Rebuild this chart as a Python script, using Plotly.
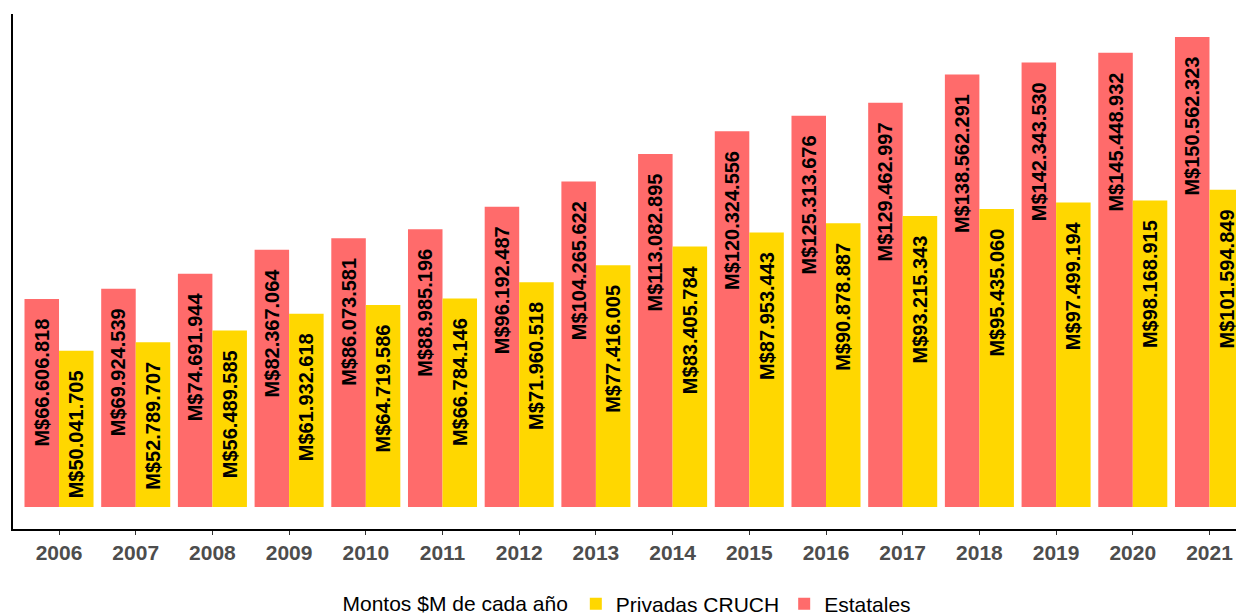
import plotly.graph_objects as go

years = [str(y) for y in range(2006, 2022)]

estatales = [
    66606818, 69924539, 74691944, 82367064, 86073581, 88985196, 96192487, 104265622,
    113082895, 120324556, 125313676, 129462997, 138562291, 142343530, 145448932, 150562323,
]
privadas = [
    50041705, 52789707, 56489585, 61932618, 64719586, 66784146, 71960518, 77416005,
    83405784, 87953443, 90878887, 93215343, 95435060, 97499194, 98168915, 101594849,
]

COLORS = {"Estatales": "#FF6B6B", "Privadas CRUCH": "#FFD700"}
FONT = "Liberation Sans, Arial"


def label(v):
    # trailing nbsp pushes the rotated label a bit further down from the bar top
    return "M$" + f"{v:,}".replace(",", ".") + "\u00a0\u00a0\u00a0"


fig = go.Figure()
for name, vals in [("Estatales", estatales), ("Privadas CRUCH", privadas)]:
    fig.add_trace(go.Bar(
        x=years,
        y=vals,
        name=name,
        marker=dict(color=COLORS[name], line=dict(width=0)),
        text=[label(v) for v in vals],
        textposition="inside",
        insidetextanchor="end",
        textangle=-90,
        constraintext="none",
        textfont=dict(family=FONT, size=20, color="black", weight="bold"),
        hoverinfo="x+y+name",
    ))

# page body has an 8px margin, so the figure is shrunk/offset to fit the window
fig.update_layout(
    width=1236,
    height=608,
    barmode="group",
    bargap=0.1,
    bargroupgap=0,
    paper_bgcolor="white",
    plot_bgcolor="white",
    margin=dict(l=5, r=0, t=6, b=87, autoexpand=False),
    font=dict(family=FONT, size=15, color="black"),
    legend=dict(
        orientation="h",
        x=0.5, xanchor="center",
        y=-0.146, yanchor="middle",
        traceorder="reversed",
        title=dict(text="Montos $M de cada año", side="left", font=dict(size=21)),
        font=dict(size=21),
    ),
    showlegend=True,
)

fig.update_xaxes(
    range=[-0.6, 15.45],
    showline=True, linecolor="black", linewidth=1.5,
    ticks="outside", ticklen=4, tickcolor="#333333",
    tickfont=dict(size=21, color="#4D4D4D", weight="bold"),
    showgrid=False,
)
fig.update_yaxes(
    range=[-7.05e6, 157.9e6],
    showline=True, linecolor="black", linewidth=1.5,
    showticklabels=False, ticks="", showgrid=False, zeroline=False,
)

fig.write_html("out.html")
